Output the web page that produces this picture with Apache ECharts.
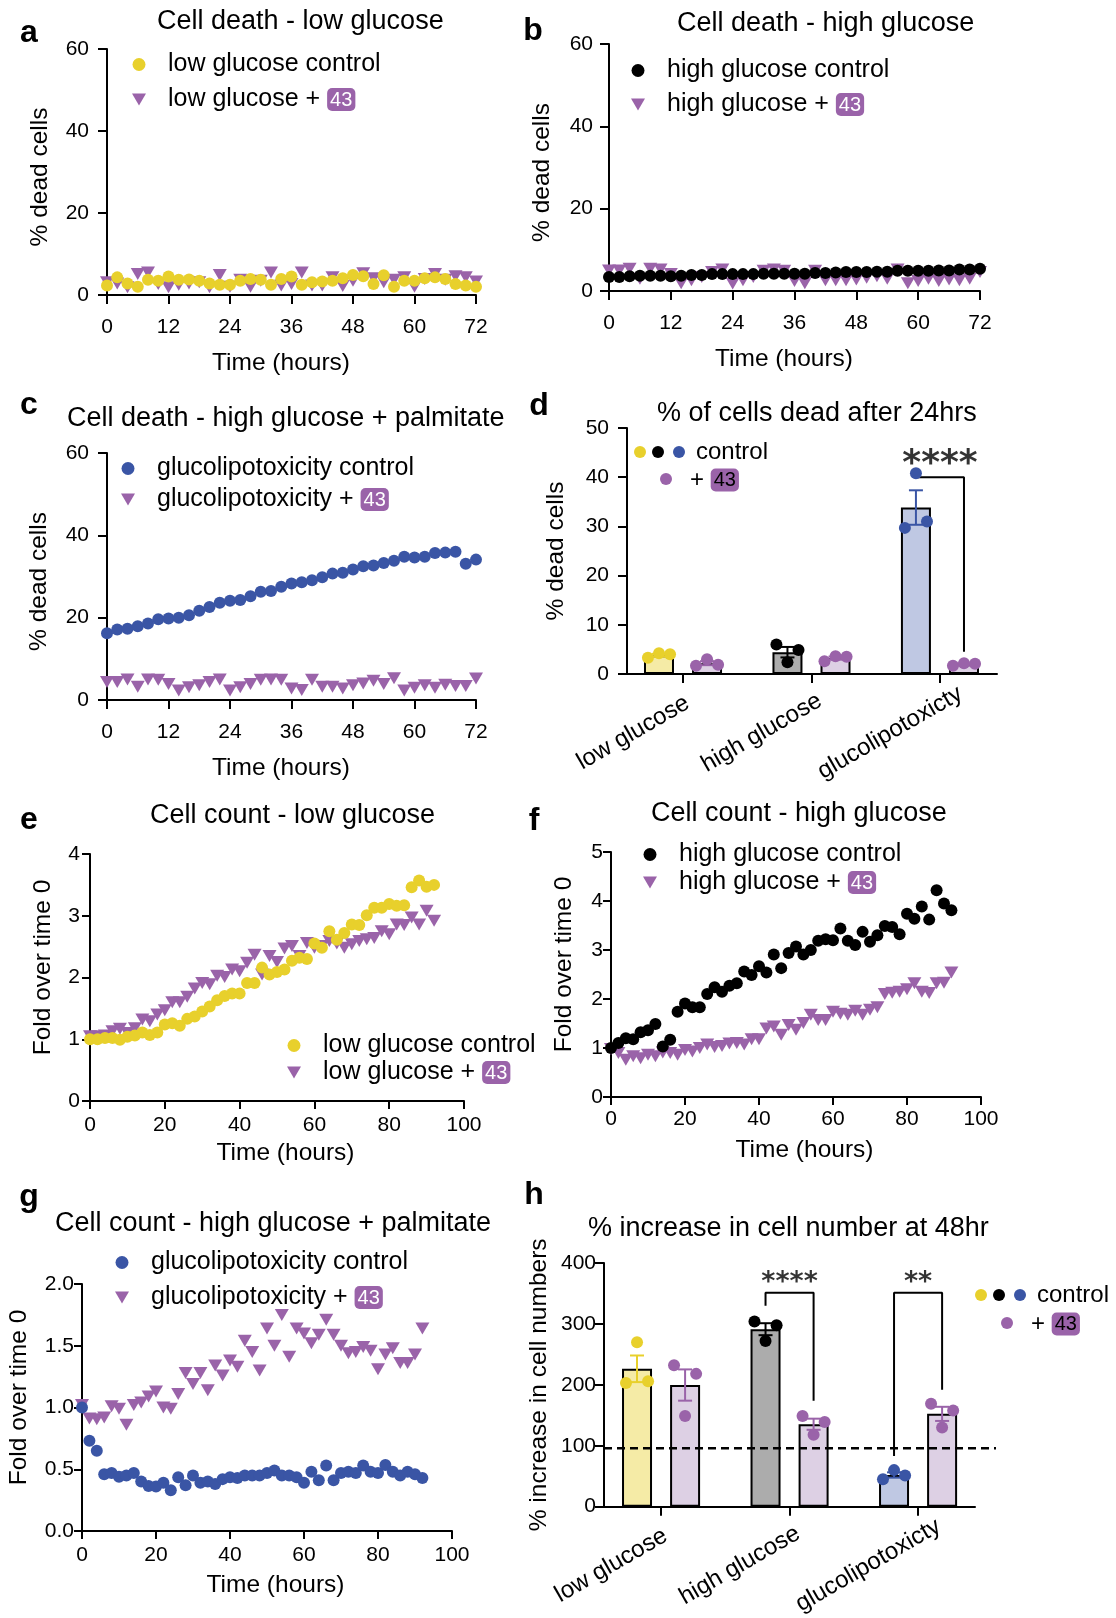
<!DOCTYPE html>
<html><head><meta charset="utf-8">
<script src="https://cdn.jsdelivr.net/npm/echarts@6/dist/echarts.min.js"></script>
<style>html,body{margin:0;padding:0;background:#fff}#c{width:1116px;height:1618px}</style>
</head><body><div id="c"></div>
<script>
// ---------- DATA ----------
const hours72 = [0,2,4,6,8,10,12,14,16,18,20,22,24,26,28,30,32,34,36,38,40,42,44,46,48,50,52,54,56,58,60,62,64,66,68,70,72];
const hours92 = [0,2,4,6,8,10,12,14,16,18,20,22,24,26,28,30,32,34,36,38,40,42,44,46,48,50,52,54,56,58,60,62,64,66,68,70,72,74,76,78,80,82,84,86,88,90,92];

// a: cell death, low glucose (% dead cells)
const deathLowCtrl = [2.3,4.3,2.8,2.0,3.7,3.5,4.5,3.7,3.8,3.5,2.8,2.5,2.5,3.5,3.9,3.7,2.5,3.9,4.5,2.5,3.1,3.3,3.5,4.1,4.9,4.6,2.7,4.8,2.0,3.5,3.5,4.1,4.3,3.9,2.7,2.3,2.0];
const deathLow43 = [3.1,2.8,1.9,5.1,5.5,2.7,1.9,2.5,2.8,3.1,1.9,4.9,2.0,3.7,2.0,3.5,5.5,2.3,2.7,5.5,2.3,2.3,4.3,2.2,3.5,5.3,4.1,3.1,3.7,4.3,2.0,3.9,5.1,3.7,4.6,4.3,3.3];
// b: cell death, high glucose
const deathHighCtrl = [3.4,3.4,3.6,3.7,3.7,3.7,3.6,3.7,3.9,3.9,4.1,4.1,4.1,4.1,4.1,4.2,4.2,4.2,4.2,4.2,4.4,4.4,4.5,4.6,4.6,4.6,4.7,4.7,4.9,4.9,4.9,4.9,5.0,5.0,5.2,5.2,5.4];
const deathHigh43 = [5.0,5.0,5.4,3.0,5.4,5.2,4.1,1.9,2.6,3.4,4.6,5.2,1.8,2.6,3.4,4.9,5.2,4.9,2.4,1.9,4.9,2.6,2.6,2.6,2.8,3.2,3.6,3.0,5.2,1.9,2.4,3.0,2.4,2.8,2.6,3.0,4.6];
// c: cell death, high glucose + palmitate
const deathGlCtrl = [16.2,17.1,17.3,17.9,18.6,19.6,19.8,20.0,20.6,21.7,22.6,23.6,24.1,24.3,25.2,26.3,26.5,27.5,28.3,28.6,29.1,29.8,30.7,30.9,31.7,32.5,32.7,33.3,33.8,34.8,34.6,34.8,35.7,35.8,36.0,33.1,34.1];
const deathGl43 = [4.4,4.4,5.0,3.2,5.0,4.9,3.9,2.3,3.1,3.6,4.4,5.0,2.3,3.1,3.9,4.9,5.0,4.9,2.8,2.4,4.9,3.2,3.2,2.8,3.6,4.0,4.7,3.9,5.3,2.3,3.0,3.6,3.0,3.7,3.4,3.4,5.2];
// e: cell count, low glucose (fold over time 0)
const countLowCtrl = [1.00,1.00,1.02,1.02,0.99,1.04,1.06,1.11,1.07,1.11,1.24,1.26,1.22,1.33,1.37,1.45,1.53,1.63,1.70,1.74,1.74,1.91,1.91,2.16,2.05,2.09,2.13,2.27,2.32,2.30,2.55,2.48,2.75,2.61,2.72,2.86,2.85,3.01,3.13,3.13,3.19,3.16,3.17,3.46,3.57,3.47,3.50];
const countLow43 = [1.05,1.05,1.06,1.13,1.17,1.10,1.18,1.32,1.29,1.40,1.47,1.60,1.60,1.69,1.82,1.91,1.89,2.03,2.01,2.13,2.10,2.24,2.37,2.05,2.35,2.25,2.47,2.51,2.35,2.56,2.48,2.51,2.59,2.55,2.48,2.54,2.59,2.62,2.64,2.75,2.70,2.86,2.85,2.97,2.86,3.08,2.92];
// f: cell count, high glucose
const countHighCtrl = [1.00,1.10,1.20,1.18,1.32,1.36,1.49,1.03,1.17,1.74,1.91,1.83,1.83,2.10,2.24,2.15,2.27,2.32,2.56,2.49,2.67,2.54,2.91,2.63,2.94,3.07,2.91,3.00,3.19,3.22,3.20,3.44,3.19,3.10,3.37,3.17,3.30,3.49,3.47,3.32,3.74,3.64,3.89,3.62,4.22,3.95,3.81];
const countHigh43 = [0.98,0.90,0.76,0.83,0.79,0.86,0.83,0.91,0.90,0.86,0.96,0.93,1.00,1.07,1.02,1.04,1.09,1.10,1.07,1.18,1.18,1.40,1.44,1.27,1.47,1.37,1.51,1.68,1.57,1.57,1.74,1.70,1.68,1.76,1.68,1.78,1.83,2.10,2.13,2.15,2.20,2.32,2.15,2.12,2.32,2.33,2.54];
// g: cell count, high glucose + palmitate
const countGlCtrl = [1.00,0.73,0.65,0.46,0.47,0.44,0.45,0.47,0.40,0.365,0.36,0.39,0.33,0.435,0.37,0.45,0.39,0.40,0.38,0.42,0.435,0.43,0.45,0.45,0.45,0.47,0.49,0.45,0.45,0.435,0.39,0.48,0.41,0.53,0.41,0.47,0.48,0.47,0.53,0.48,0.47,0.535,0.48,0.45,0.48,0.46,0.43];
const countGl43 = [1.02,0.91,0.905,0.92,1.01,0.99,0.86,1.02,1.04,1.09,1.13,1.00,0.99,1.11,1.28,1.19,1.28,1.14,1.34,1.26,1.38,1.33,1.54,1.45,1.30,1.64,1.50,1.75,1.41,1.64,1.60,1.52,1.59,1.71,1.59,1.50,1.44,1.45,1.49,1.46,1.31,1.43,1.48,1.36,1.36,1.43,1.64];

// d & h: bar charts, replicates per condition (left-to-right)
const conditions = ['low glucose', 'high glucose', 'glucolipotoxicty'];
const dead24Ctrl = [[3.3,4.2,4.0],[6.0,2.4,4.9],[29.7,40.8,31.0]];
const dead24Trt  = [[1.7,3.0,1.9],[2.6,3.6,3.5],[1.7,2.2,2.1]];
const inc48Ctrl = [[203,270,206],[304,272,298],[45,60,51]];
const inc48Trt  = [[232,149,218],[149,118,139],[169,130,158]];
const baselinePct = 100;
// significance annotations: [condition index, bracket height, left leg bottom, right leg bottom, stars]
const sigD = [[2, 40, 40, 4.5, '****']];
const sigH = [[1, 351, 330, 174, '****'], [2, 351, 83, 192, '**']];

// ---------- STYLE ----------
const FONT = '"Liberation Sans", Arial, Helvetica, sans-serif';
const YEL = '#e8d02c', PUR = '#9a63a9', BLU = '#3a55a5', BLK = '#000000';
const YEL_F = '#f5eba6', PUR_F = '#ddd0e4', GRY_F = '#acacac', BLU_F = '#bfc8e3';
const TRI = 'path://M0,0L20,0L10,17Z';
const ctrlCol = [YEL, BLK, BLU];
const ctrlFill = [YEL_F, GRY_F, BLU_F];

const grids = [
  {left:107, top:49, width:369, height:246},   // a
  {left:609, top:44, width:371, height:247},   // b
  {left:107, top:453, width:369, height:247},  // c
  {left:627, top:428, width:370, height:246},  // d
  {left:90, top:854, width:374, height:247},   // e
  {left:611, top:852, width:370, height:245},  // f
  {left:82, top:1284, width:370, height:247},  // g
  {left:604, top:1263, width:371, height:247}, // h
  {left:604, top:1263, width:392, height:247}  // h dashed overlay
];

function baseAxis(gi, tickLen) {
  return {
    gridIndex: gi, type: 'value',
    axisLine: {show: true, onZero: false, lineStyle: {color: '#000', width: 2}},
    axisTick: {show: true, length: tickLen, lineStyle: {color: '#000', width: 2}},
    splitLine: {show: false},
    nameLocation: 'middle',
    nameTextStyle: {color: '#000', fontSize: 24.5, fontFamily: FONT}
  };
}
function numAxis(gi, min, max, interval, name, nameGap, margin, tickLen, namePad, fmt) {
  const a = baseAxis(gi, tickLen);
  Object.assign(a, {min, max, interval, name, nameGap});
  a.nameTextStyle.padding = namePad;
  a.axisLabel = {color: '#000', fontSize: 21, fontFamily: FONT, margin};
  if (fmt) a.axisLabel.formatter = fmt;
  return a;
}
function catAxis(gi, min, max) {
  const a = baseAxis(gi, 9);
  Object.assign(a, {min, max});
  a.axisTick.customValues = [0, 1, 2];
  a.axisLabel = {color: '#000', fontSize: 24, fontFamily: FONT, rotate: 30, margin: 30,
    align: 'center', verticalAlign: 'middle', padding: [0, 115, 0, 0],
    customValues: [0, 1, 2], formatter: v => conditions[Math.round(v)]};
  return a;
}
const PAD_L = [0, 21, 0, 0], PAD_R = [0, 0, 0, 17], PAD_DN = [0, 10, 0, 0], PAD_UP = [0, 0, 0, 20];
const xAxes = [
  numAxis(0, 0, 72, 12, 'Time (hours)', 56, 22, 9, PAD_L),
  numAxis(1, 0, 72, 12, 'Time (hours)', 56, 22, 9, PAD_L),
  numAxis(2, 0, 72, 12, 'Time (hours)', 56, 22, 9, PAD_L),
  catAxis(3, -0.436, 2.444),
  numAxis(4, 0, 100, 20, 'Time (hours)', 40, 14, 8, PAD_R),
  numAxis(5, 0, 100, 20, 'Time (hours)', 41, 12, 8, PAD_R),
  numAxis(6, 0, 100, 20, 'Time (hours)', 42, 14, 8, PAD_R),
  catAxis(7, -0.444, 2.443),
  {gridIndex: 8, type: 'value', min: 0, max: 1, show: false}
];
const yAxes = [
  numAxis(0, 0, 60, 20, '% dead cells', 54, 18, 9, PAD_DN),
  numAxis(1, 0, 60, 20, '% dead cells', 54, 16, 9, PAD_DN),
  numAxis(2, 0, 60, 20, '% dead cells', 55, 18, 9, PAD_DN),
  numAxis(3, 0, 50, 10, '% dead cells', 58, 18, 9, [0, 0, 0, 0]),
  numAxis(4, 0, 4, 1, 'Fold over time 0', 34, 10, 8, PAD_UP),
  numAxis(5, 0, 5, 1, 'Fold over time 0', 34, 8, 8, PAD_UP),
  numAxis(6, 0, 2, 0.5, 'Fold over time 0', 50, 8, 8, PAD_UP, v => v.toFixed(1)),
  numAxis(7, 0, 400, 100, '% increase in cell numbers', 52, 8, 9, [0, 0, 0, 0]),
  {gridIndex: 8, type: 'value', min: 0, max: 400, show: false}
];

const series = [];
function timePanel(gi, hours, ctrl, trt, col, ctrlName, trtName) {
  series.push({type: 'scatter', name: trtName, xAxisIndex: gi, yAxisIndex: gi,
    data: hours.map((h, i) => [h, trt[i]]), symbol: TRI, symbolSize: [14, 12],
    itemStyle: {color: PUR, opacity: 1}, z: 3});
  series.push({type: 'scatter', name: ctrlName, xAxisIndex: gi, yAxisIndex: gi,
    data: hours.map((h, i) => [h, ctrl[i]]), symbol: 'circle', symbolSize: 12,
    itemStyle: {color: col, opacity: 1}, z: 4});
}
timePanel(0, hours72, deathLowCtrl, deathLow43, YEL, 'low glucose control', 'low glucose + 43');
timePanel(1, hours72, deathHighCtrl, deathHigh43, BLK, 'high glucose control', 'high glucose + 43');
timePanel(2, hours72, deathGlCtrl, deathGl43, BLU, 'glucolipotoxicity control', 'glucolipotoxicity + 43');
timePanel(4, hours92, countLowCtrl, countLow43, YEL, 'low glucose control', 'low glucose + 43');
timePanel(5, hours92, countHighCtrl, countHigh43, BLK, 'high glucose control', 'high glucose + 43');
timePanel(6, hours92, countGlCtrl, countGl43, BLU, 'glucolipotoxicity control', 'glucolipotoxicity + 43');

const mean = a => a.reduce((s, v) => s + v, 0) / a.length;
const sem = a => { const m = mean(a); return Math.sqrt(a.reduce((s, v) => s + (v - m) * (v - m), 0) / (a.length - 1)) / Math.sqrt(a.length); };

function barPanel(gi, ctrl, trt, sigs, starSize, starYOff) {
  const off = 0.187, jit = [-0.086, 0, 0.086];
  const bars = [], errs = [], dots = [];
  conditions.forEach((c, i) => {
    [[ctrl[i], i - off, ctrlCol[i], ctrlFill[i]], [trt[i], i + off, PUR, PUR_F]].forEach(([reps, x, col, fill]) => {
      bars.push({value: [x, mean(reps)], itemStyle: {color: fill}});
      errs.push({value: [x, mean(reps), sem(reps)], itemStyle: {color: col}});
      reps.forEach((v, j) => dots.push({value: [x + jit[j], v], itemStyle: {color: col}}));
    });
  });
  series.push({type: 'bar', xAxisIndex: gi, yAxisIndex: gi, data: bars, barWidth: 30,
    itemStyle: {borderColor: '#000', borderWidth: 2}, z: 2});
  series.push({type: 'custom', xAxisIndex: gi, yAxisIndex: gi, data: errs, z: 3, clip: false,
    encode: {x: 0, y: 1},
    renderItem: (params, api) => {
      const x = api.value(0), m = api.value(1), s = api.value(2);
      const top = api.coord([x, m + s]), bot = api.coord([x, m - s]);
      const col = api.visual('color');
      const st = {stroke: col, lineWidth: 2};
      return {type: 'group', children: [
        {type: 'line', shape: {x1: top[0], y1: top[1], x2: bot[0], y2: bot[1]}, style: st},
        {type: 'line', shape: {x1: top[0] - 7, y1: top[1], x2: top[0] + 7, y2: top[1]}, style: st},
        {type: 'line', shape: {x1: bot[0] - 7, y1: bot[1], x2: bot[0] + 7, y2: bot[1]}, style: st}
      ]};
    }});
  series.push({type: 'scatter', xAxisIndex: gi, yAxisIndex: gi, data: dots, symbol: 'circle',
    symbolSize: 12, itemStyle: {opacity: 1}, z: 5});
  sigs.forEach(([ci, h, lb, rb, stars]) => {
    series.push({type: 'line', xAxisIndex: gi, yAxisIndex: gi, symbol: 'none', z: 4,
      lineStyle: {color: '#000', width: 2},
      data: [[ci - off, lb], [ci - off, h], [ci + off, h], [ci + off, rb]]});
    series.push({type: 'scatter', xAxisIndex: gi, yAxisIndex: gi, symbolSize: 0, z: 6,
      data: [[ci, h]],
      label: {show: true, position: 'top', distance: starYOff, formatter: stars,
        color: '#000', fontSize: starSize, fontWeight: 'bold', fontFamily: '"DejaVu Sans", sans-serif'}});
  });
}
barPanel(3, dead24Ctrl, dead24Trt, sigD, 36, -5);
barPanel(7, inc48Ctrl, inc48Trt, sigH, 27, -4);
series.push({type: 'line', xAxisIndex: 8, yAxisIndex: 8, symbol: 'none', z: 3,
  lineStyle: {color: '#000', width: 2.5, type: [8, 5]},
  data: [[0, baselinePct], [1, baselinePct]]});

// ---------- LEGENDS ----------
const rich43 = {b: {backgroundColor: PUR, color: '#fff', borderRadius: 5, padding: [2, 3, 1, 3], fontSize: 20, lineHeight: 22, fontFamily: FONT}};
function legend(names, left, top, gap) {
  return {data: names, orient: 'vertical', left, top, itemGap: gap, padding: 0,
    itemWidth: 14, itemHeight: 13, selectedMode: false,
    formatter: n => n.replace('43', '{b|43}'),
    textStyle: {fontSize: 25, fontFamily: FONT, color: '#000', lineHeight: 24, padding: [0, 0, 0, 17], rich: rich43}};
}
const legends = [
  legend(['low glucose control', 'low glucose + 43'], 132, 52, 10),
  legend(['high glucose control', 'high glucose + 43'], 631, 58, 9),
  legend(['glucolipotoxicity control', 'glucolipotoxicity + 43'], 121, 456, 6),
  legend(['low glucose control', 'low glucose + 43'], 287, 1033, 2),
  legend(['high glucose control', 'high glucose + 43'], 643, 842, 3),
  legend(['glucolipotoxicity control', 'glucolipotoxicity + 43'], 115, 1250, 10)
];

// ---------- TITLES ----------
const titleStyle = {fontSize: 27, fontWeight: 'normal', color: '#000', fontFamily: FONT};
const titles = [
  ['Cell death - low glucose', 157, 8],
  ['Cell death - high glucose', 677, 10],
  ['Cell death - high glucose + palmitate', 67, 405],
  ['% of cells dead after 24hrs', 657, 400],
  ['Cell count - low glucose', 150, 802],
  ['Cell count - high glucose', 651, 800],
  ['Cell count - high glucose + palmitate', 55, 1210],
  ['% increase in cell number at 48hr', 588, 1215]
].map(([text, left, top]) => ({text, left, top, padding: 0, textStyle: titleStyle}));

// ---------- PANEL LETTERS & BAR LEGENDS ----------
const graphic = [];
[['a', 29, 33], ['b', 533, 31], ['c', 29, 405], ['d', 539, 406], ['e', 29, 820], ['f', 534, 821], ['g', 29, 1197], ['h', 534, 1195]]
  .forEach(([t, x, y]) => graphic.push({type: 'text', x, y, style: {text: t, fill: '#000', font: 'bold 32px ' + FONT, textAlign: 'center', textVerticalAlign: 'middle'}}));
function barLegend(x0, y0, y1, dx) {
  ctrlCol.forEach((c, i) => graphic.push({type: 'circle', shape: {cx: x0 + dx[i], cy: y0, r: 6}, style: {fill: c}}));
  graphic.push({type: 'text', x: x0 + dx[3], y: y0, style: {text: 'control', fill: '#000', font: '24px ' + FONT, textVerticalAlign: 'middle'}});
  graphic.push({type: 'circle', shape: {cx: x0 + dx[4], cy: y1, r: 6}, style: {fill: PUR}});
  graphic.push({type: 'text', x: x0 + dx[5], y: y1 + 1, style: {text: '+ {b|43}', fill: '#000', font: '24px ' + FONT, textVerticalAlign: 'middle', rich: rich43}});
}
barLegend(640, 452, 479, [0, 18, 39, 56, 26, 50]);
barLegend(981, 1295, 1323, [0, 18, 39, 56, 26, 50]);

const chart = echarts.init(document.getElementById('c'), null, {renderer: 'canvas', width: 1116, height: 1618});
chart.setOption({
  animation: false,
  backgroundColor: '#fff',
  textStyle: {fontFamily: FONT},
  title: titles,
  grid: grids,
  xAxis: xAxes,
  yAxis: yAxes,
  legend: legends,
  series,
  graphic
});
</script>
</body></html>
